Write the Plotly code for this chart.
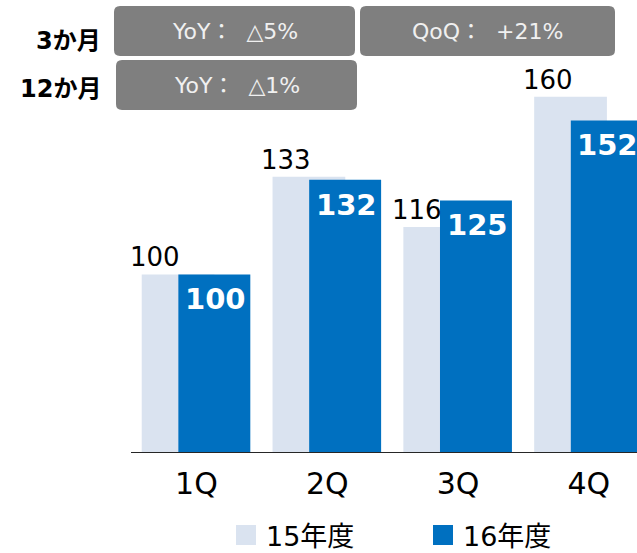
import plotly.graph_objects as go

quarters = ["1Q", "2Q", "3Q", "4Q"]
fy15 = [100, 133, 116, 160]
fy16 = [100, 132, 125, 152]
series_names = ["15年度", "16年度"]
row_labels = ["3か月", "12か月"]
box_texts = ["YoY：  △5%", "QoQ：  +21%", "YoY：  △1%"]

LIGHT = "#DAE3F0"
BLUE = "#0070C0"
FONT = "DejaVu Sans, Noto Sans CJK JP, sans-serif"

W, H = 637, 553
ML, MR, MT, MB = 131, 0, 0, 101
PW, PH = W - ML - MR, H - MT - MB


def X(px):
    return (px - ML) / PW


def Y(py):
    return (MT + PH - py) / PH


def rrect(x0, y0, x1, y1, r=6):
    pts = [
        ("M", (x0 + r, y0)),
        ("L", (x1 - r, y0)),
        ("Q", (x1, y0), (x1, y0 + r)),
        ("L", (x1, y1 - r)),
        ("Q", (x1, y1), (x1 - r, y1)),
        ("L", (x0 + r, y1)),
        ("Q", (x0, y1), (x0, y1 - r)),
        ("L", (x0, y0 + r)),
        ("Q", (x0, y0), (x0 + r, y0)),
    ]
    s = ""
    for p in pts:
        cmd = p[0]
        coords = " ".join(f"{X(a):.5f},{Y(b):.5f}" for a, b in p[1:])
        s += f"{cmd}{coords} "
    return s + "Z"


fig = go.Figure()

fig.add_trace(go.Bar(
    x=quarters, y=fy15, name=series_names[0],
    marker=dict(color=LIGHT, line=dict(width=0)),
    offset=-0.418, width=0.556, showlegend=False, hoverinfo="skip",
))
fig.add_trace(go.Bar(
    x=quarters, y=fy16, name=series_names[1],
    marker=dict(color=BLUE, line=dict(width=0)),
    offset=-0.138, width=0.550, showlegend=False, hoverinfo="skip",
))

# legend-only traces
for nm, col in zip(series_names, [LIGHT, BLUE]):
    fig.add_trace(go.Scatter(
        x=[None], y=[None], mode="markers", name=nm,
        marker=dict(symbol="square", size=16, color=col, line=dict(color=col, width=4)),
        showlegend=True, hoverinfo="skip",
    ))

# labels for 15年度 bars
for q, v in zip(quarters, fy15):
    fig.add_annotation(
        x=q, y=v, xref="x", yref="y", text=str(v), showarrow=False,
        xanchor="right", yanchor="bottom", xshift=-14, yshift=0,
        font=dict(family=FONT, size=26, color="black"),
    )

# labels for 16年度 bars (inside, near the top)
for q, v in zip(quarters, fy16):
    fig.add_annotation(
        x=q, y=v, xref="x", yref="y", text=str(v), showarrow=False,
        xanchor="center", yanchor="top", xshift=19, yshift=-6,
        font=dict(family=FONT, size=29, color="white", weight="bold"),
    )

# boxes
boxes = [(114, 6, 355, 56), (360, 6, 615, 56), (116, 60, 357, 110)]
for (x0, y0, x1, y1), t in zip(boxes, box_texts):
    fig.add_shape(type="path", path=rrect(x0, y0, x1, y1), xref="paper", yref="paper",
                  fillcolor="#7F7F7F", line=dict(width=0))
    fig.add_annotation(x=X((x0 + x1) / 2), y=Y((y0 + y1) / 2), xref="paper", yref="paper",
                       text=t, showarrow=False, xanchor="center", yanchor="middle",
                       font=dict(family=FONT, size=22, color="#F0F0F0"))

for lbl, yc in zip(row_labels, [41, 89]):
    fig.add_annotation(x=X(103), y=Y(yc), xref="paper", yref="paper", text=lbl,
                       showarrow=False, xanchor="right", yanchor="middle",
                       font=dict(family=FONT, size=24, color="black", weight="bold"))

fig.update_layout(
    width=W, height=H,
    margin=dict(l=ML, r=MR, t=MT, b=MB, autoexpand=False),
    paper_bgcolor="white", plot_bgcolor="white",
    barmode="overlay",
    font=dict(family=FONT, color="black"),
    showlegend=True,
    legend=dict(orientation="h", x=X(226), y=Y(511), xanchor="left", yanchor="top",
                font=dict(family=FONT, size=27, color="black"),
                entrywidth=152, entrywidthmode="pixels", bgcolor="rgba(0,0,0,0)"),
    xaxis=dict(type="category", range=[-0.5, 3.368], showline=True, linecolor="#262626",
               linewidth=1, ticks="", showgrid=False, zeroline=False,
               tickfont=dict(family=FONT, size=30, color="black"), ticklabelstandoff=5),
    yaxis=dict(range=[40, 192.7], visible=False, showgrid=False, zeroline=False),
    hovermode=False,
)

fig.write_html("out.html", config={"displayModeBar": False},
               post_script="document.body.style.margin='0';document.body.style.overflow='hidden';")
